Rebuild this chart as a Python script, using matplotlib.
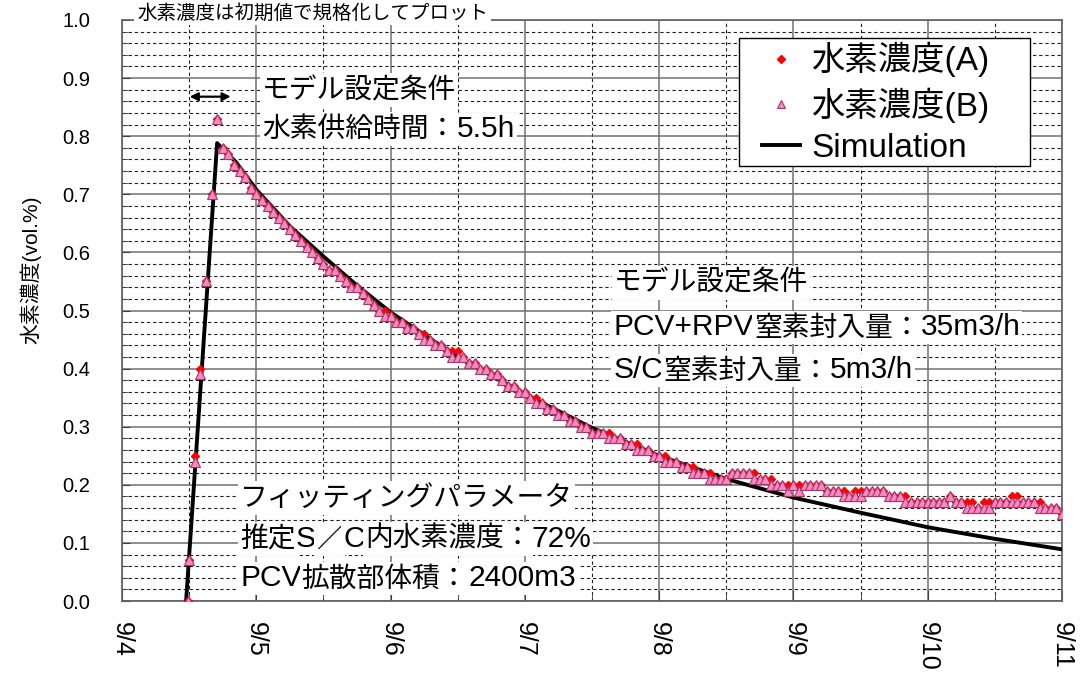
import numpy as np
import matplotlib.pyplot as plt
from matplotlib.patches import Rectangle

plt.rcParams['font.family'] = ['Liberation Sans', 'Noto Sans CJK JP', 'DejaVu Sans']

# hourly samples, hours counted from 9/4 0:00 (first point is the start of injection)
hours = [11.85] + [12.0 + k for k in range(157)]

conc_b = [0.0,
          0.07, 0.24, 0.39, 0.55, 0.70, 0.83, 0.78, 0.77, 0.75, 0.74,
          0.73, 0.71, 0.70, 0.69, 0.68, 0.67, 0.66, 0.65, 0.64, 0.63,
          0.62, 0.61, 0.60, 0.59, 0.58, 0.57, 0.57, 0.56, 0.55, 0.54,
          0.54, 0.53, 0.52, 0.51, 0.50, 0.49, 0.49, 0.48, 0.48, 0.47,
          0.47, 0.46, 0.45, 0.45, 0.44, 0.44, 0.43, 0.42, 0.42, 0.42,
          0.41, 0.41, 0.40, 0.40, 0.39, 0.39, 0.38, 0.37, 0.37, 0.36,
          0.36, 0.35, 0.34, 0.34, 0.33, 0.33, 0.32, 0.32, 0.31, 0.31,
          0.30, 0.30, 0.29, 0.29, 0.29, 0.28, 0.28, 0.28, 0.27, 0.27,
          0.26, 0.26, 0.26, 0.25, 0.25, 0.24, 0.24, 0.24, 0.23, 0.23,
          0.22, 0.22, 0.22, 0.21, 0.21, 0.21, 0.21, 0.22, 0.22, 0.22,
          0.22, 0.21, 0.21, 0.21, 0.20, 0.20, 0.20, 0.19, 0.20, 0.19,
          0.20, 0.20, 0.20, 0.20, 0.19, 0.19, 0.19, 0.18, 0.18, 0.18,
          0.18, 0.19, 0.19, 0.19, 0.19, 0.18, 0.18, 0.18, 0.17, 0.17,
          0.17, 0.17, 0.17, 0.17, 0.17, 0.17, 0.18, 0.17, 0.17, 0.16,
          0.16, 0.16, 0.16, 0.16, 0.17, 0.17, 0.17, 0.17, 0.17, 0.17,
          0.17, 0.17, 0.16, 0.16, 0.16, 0.16, 0.15]

conc_a = [0.0,
          0.07, 0.25, 0.40, 0.55, 0.70, 0.83, 0.78, 0.77, 0.75, 0.74,
          0.73, 0.71, 0.70, 0.69, 0.68, 0.67, 0.66, 0.65, 0.64, 0.63,
          0.62, 0.61, 0.60, 0.59, 0.58, 0.57, 0.57, 0.56, 0.55, 0.54,
          0.54, 0.53, 0.52, 0.51, 0.50, 0.50, 0.49, 0.48, 0.48, 0.47,
          0.47, 0.46, 0.46, 0.45, 0.44, 0.44, 0.43, 0.43, 0.43, 0.42,
          0.41, 0.41, 0.40, 0.40, 0.39, 0.39, 0.38, 0.37, 0.37, 0.36,
          0.36, 0.35, 0.35, 0.34, 0.33, 0.33, 0.32, 0.32, 0.31, 0.31,
          0.30, 0.30, 0.29, 0.29, 0.29, 0.29, 0.28, 0.28, 0.27, 0.27,
          0.27, 0.26, 0.26, 0.25, 0.25, 0.25, 0.24, 0.24, 0.23, 0.23,
          0.23, 0.22, 0.22, 0.22, 0.21, 0.21, 0.21, 0.22, 0.22, 0.22,
          0.22, 0.22, 0.21, 0.21, 0.21, 0.20, 0.20, 0.20, 0.20, 0.20,
          0.20, 0.20, 0.20, 0.20, 0.19, 0.19, 0.19, 0.19, 0.18, 0.19,
          0.19, 0.19, 0.19, 0.19, 0.19, 0.18, 0.18, 0.18, 0.18, 0.17,
          0.17, 0.17, 0.17, 0.17, 0.17, 0.17, 0.18, 0.17, 0.17, 0.17,
          0.17, 0.16, 0.17, 0.17, 0.17, 0.17, 0.17, 0.18, 0.18, 0.17,
          0.17, 0.17, 0.17, 0.16, 0.16, 0.16, 0.15]

# simulation curve (days from 9/4 0:00)
sim_days = [0.477, 0.708, 0.85, 1.0, 1.25, 1.5, 1.75, 2.0, 2.5, 3.0,
            3.5, 4.0, 4.5, 5.0, 5.5, 6.0, 6.5, 7.0]
sim_vals = [0.0, 0.788, 0.755, 0.708, 0.645, 0.593, 0.543, 0.497, 0.42, 0.356,
            0.298, 0.25, 0.21, 0.178, 0.152, 0.127, 0.107, 0.089]

date_labels = ['9/4', '9/5', '9/6', '9/7', '9/8', '9/9', '9/10', '9/11']

days = np.array(hours) / 24.0

fig = plt.figure(figsize=(10.81, 6.75), dpi=100)
ax = fig.add_axes([0.1129, 0.1096, 0.8695, 0.8608])


def note(x, y, s):
    # latin runs a bit larger than the japanese runs, like the original font
    renderer = fig.canvas.get_renderer()
    runs = []
    for ch in s:
        latin = ord(ch) < 128
        if runs and runs[-1][1] == latin:
            runs[-1][0] += ch
        else:
            runs.append([ch, latin])
    for txt, latin in runs:
        if latin:
            t = ax.text(x, y, txt, fontsize=21.5, family='Liberation Sans', va='baseline',
                        bbox=dict(facecolor='white', edgecolor='none', pad=1.5), zorder=6)
        else:
            t = ax.text(x, y, txt, fontsize=20, family='Noto Sans CJK JP', va='baseline',
                        bbox=dict(facecolor='white', edgecolor='none', pad=1.5), zorder=6)
        bb = t.get_window_extent(renderer)
        x = ax.transData.inverted().transform((bb.x1, bb.y0))[0]


ax.plot(sim_days, sim_vals, color='black', lw=2.8, zorder=3, label='Simulation')
ax.plot(days, conc_a, ls='none', marker='D', ms=4.5, color='#ff0000', mec='#ff0000',
        zorder=4, label='水素濃度(A)')
ax.plot(days, conc_b, ls='none', marker='^', ms=6.5, mfc='#f08cc0', mec='#b0306a',
        mew=0.8, zorder=5, label='水素濃度(B)')

ax.set_xlim(0, 7)
ax.set_ylim(0, 1.0)
ax.set_xticks(range(8))
ax.set_xticks(np.arange(0.5, 7, 1.0), minor=True)
ax.set_xticklabels(date_labels, rotation=270, fontsize=18)
ax.set_yticks(np.arange(0, 1.01, 0.1))
ax.set_yticks(np.arange(0, 1.0, 0.02), minor=True)
ax.set_yticklabels(['%.1f' % v for v in np.arange(0, 1.01, 0.1)], fontsize=14.5)
ax.tick_params(which='both', direction='in', color='#404040')
ax.tick_params(axis='x', which='major', length=8, pad=15)
ax.tick_params(axis='x', which='minor', length=6)
ax.tick_params(axis='y', which='major', length=6, pad=23)
ax.tick_params(axis='y', which='minor', length=4)
ax.set_axisbelow(True)
ax.grid(which='major', color='#707070', lw=1.1, ls='-')
ax.grid(which='minor', color='#202020', lw=0.8, ls=(0, (3, 2.5)))
for s in ax.spines.values():
    s.set_color('#606060')
    s.set_linewidth(1.2)

ax.set_ylabel('水素濃度(vol.%)', fontsize=15)
ax.yaxis.set_label_coords(-0.086, 0.57)

ax.text(0.112, 1.012, '水素濃度は初期値で規格化してプロット', fontsize=14, va='center',
        ha='left', bbox=dict(facecolor='white', edgecolor='none', pad=2), zorder=6,
        clip_on=False)

note(1.044, 0.865, 'モデル設定条件')
note(1.044, 0.798, '水素供給時間：5.5h')
ax.annotate('', xy=(0.83, 0.868), xytext=(0.483, 0.868),
            arrowprops=dict(arrowstyle='<|-|>', color='black', lw=1.6, mutation_scale=12))

note(3.66, 0.534, 'モデル設定条件')
note(3.66, 0.457, 'PCV+RPV窒素封入量：35m3/h')
note(3.66, 0.383, 'S/C窒素封入量：5m3/h')

note(0.88, 0.164, 'フィッティングパラメータ')
note(0.88, 0.093, '推定S／C内水素濃度：72%')
note(0.88, 0.025, 'PCV拡散部体積：2400m3')

# legend box drawn separately so the padding can match the original
ax.add_patch(Rectangle((0.656, 0.749), 0.31, 0.2205, transform=ax.transAxes,
                       facecolor='white', edgecolor='black', lw=1.0, zorder=6.5))
h, l = ax.get_legend_handles_labels()
leg = ax.legend([h[1], h[2], h[0]], [l[1], l[2], l[0]], loc='upper left',
                bbox_to_anchor=(0.681, 0.962), fontsize=24, frameon=False,
                borderaxespad=0, borderpad=0, handlelength=1.15,
                handletextpad=0.33, labelspacing=0.3, markerscale=0.9)
leg.set_zorder(7)

fig.savefig('out.png', dpi=100)
